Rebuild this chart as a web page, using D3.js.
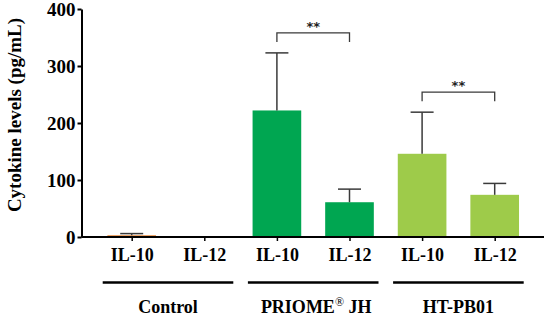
<!DOCTYPE html>
<html>
<head>
<meta charset="utf-8">
<script src="https://cdn.jsdelivr.net/npm/d3@7"></script>
<style>
  body { margin: 0; background: #fff; }
  text { font-family: "Liberation Serif", "Times New Roman", serif; font-weight: bold; fill: #000; }
</style>
</head>
<body>
<script>
// data
var groups = ["Control", "PRIOME", "HT-PB01"];
var cytokines = ["IL-10", "IL-12"];
var means = [3, 0, 222, 61, 146, 74];
var upperErr = [3, 0, 101, 23, 73, 20];
var groupColors = ["#e8822d", "#00a651", "#9ecb4a"];
var yTicks = [0, 100, 200, 300, 400];
var sigPairs = [
  { from: 2, to: 3, level: 358, label: "**" },
  { from: 4, to: 5, level: 254, label: "**" }
];

var width = 550, height = 324;

var svg = d3.select("body").append("svg")
  .attr("width", width)
  .attr("height", height);

var bars = [];
groups.forEach(function(g, gi) {
  cytokines.forEach(function(c, ci) {
    var i = gi * 2 + ci;
    bars.push({ i: i, group: gi, label: c, mean: means[i], err: upperErr[i] });
  });
});

var y = d3.scaleLinear().domain([0, 400]).range([237, 9]);
var x = d3.scalePoint().domain(d3.range(bars.length)).range([95.4, 531]).padding(0.5);
var barW = x.step() * 0.67;
var axisX = 81.5;

// bars
svg.selectAll(".bar")
  .data(bars)
  .enter().append("rect")
  .attr("class", "bar")
  .attr("x", function(d) { return x(d.i) - barW / 2; })
  .attr("y", function(d) { return y(d.mean); })
  .attr("width", barW)
  .attr("height", function(d) { return y(0) - y(d.mean); })
  .attr("fill", function(d) { return groupColors[d.group]; });

// error bars (upper only)
var eb = svg.selectAll(".err")
  .data(bars.filter(function(d) { return d.err > 0; }))
  .enter().append("g")
  .attr("class", "err")
  .attr("stroke", "#3a3a3a")
  .attr("stroke-width", 1.5);
eb.append("line")
  .attr("x1", function(d) { return x(d.i); })
  .attr("x2", function(d) { return x(d.i); })
  .attr("y1", function(d) { return y(d.mean); })
  .attr("y2", function(d) { return y(d.mean + d.err); });
eb.append("line")
  .attr("x1", function(d) { return x(d.i) - 11.5; })
  .attr("x2", function(d) { return x(d.i) + 11.5; })
  .attr("y1", function(d) { return y(d.mean + d.err); })
  .attr("y2", function(d) { return y(d.mean + d.err); });

// y axis
var yAxis = svg.append("g")
  .attr("transform", "translate(" + axisX + ",0)")
  .call(d3.axisLeft(y).tickValues(yTicks).tickSize(4).tickPadding(2).tickSizeOuter(0));
yAxis.select(".domain").attr("stroke", "#000").attr("stroke-width", 2);
yAxis.selectAll(".tick line").attr("stroke", "#000").attr("stroke-width", 2);
yAxis.selectAll("text").style("font-size", "19px").attr("dy", "0.36em");

// x axis
var xAxis = svg.append("g")
  .attr("transform", "translate(0," + y(0) + ")")
  .call(d3.axisBottom(x).tickSize(4).tickPadding(7).tickSizeOuter(0)
    .tickFormat(function(i) { return bars[i].label; }));
xAxis.select(".domain").attr("d", "M" + axisX + ",0H544").attr("stroke", "#000").attr("stroke-width", 2);
xAxis.selectAll(".tick line").attr("stroke", "#000").attr("stroke-width", 1.5);
xAxis.selectAll("text").style("font-size", "18px");

// y label
svg.append("text")
  .attr("transform", "translate(21,115) rotate(-90)")
  .attr("text-anchor", "middle")
  .style("font-size", "19px")
  .text("Cytokine levels (pg/mL)");

// group lines and labels
groups.forEach(function(g, gi) {
  var x0 = x(gi * 2) - 29, x1 = x(gi * 2 + 1) + 29;
  svg.append("line")
    .attr("x1", x0).attr("x2", x1)
    .attr("y1", 282.5).attr("y2", 282.5)
    .attr("stroke", "#000").attr("stroke-width", 2.5);
  var t = svg.append("text")
    .attr("x", (x0 + x1) / 2 + (gi == 1 ? 3 : 0))
    .attr("y", 313)
    .attr("text-anchor", "middle")
    .style("font-size", "18px");
  if (gi == 1) {
    t.append("tspan").text("PRIOME");
    t.append("tspan").attr("dy", -7).style("font-size", "12px").style("font-weight", "normal").text("\u00AE");
    t.append("tspan").attr("dy", 7).text(" JH");
  } else {
    t.text(g);
  }
});

// significance brackets
var sig = svg.selectAll(".sig")
  .data(sigPairs)
  .enter().append("g")
  .attr("class", "sig");
sig.append("path")
  .attr("d", function(d) {
    var top = y(d.level), leg = y(d.level - 16);
    return "M" + x(d.from) + "," + leg + "V" + top + "H" + x(d.to) + "V" + leg;
  })
  .attr("fill", "none")
  .attr("stroke", "#3a3a3a")
  .attr("stroke-width", 1.3);
sig.append("text")
  .attr("x", function(d) { return (x(d.from) + x(d.to)) / 2; })
  .attr("y", function(d) { return y(d.level) - 2; })
  .attr("text-anchor", "middle")
  .style("font-family", "DejaVu Sans, sans-serif")
  .style("font-size", "13px")
  .style("fill", "#222")
  .text(function(d) { return d.label; });
</script>
</body>
</html>
